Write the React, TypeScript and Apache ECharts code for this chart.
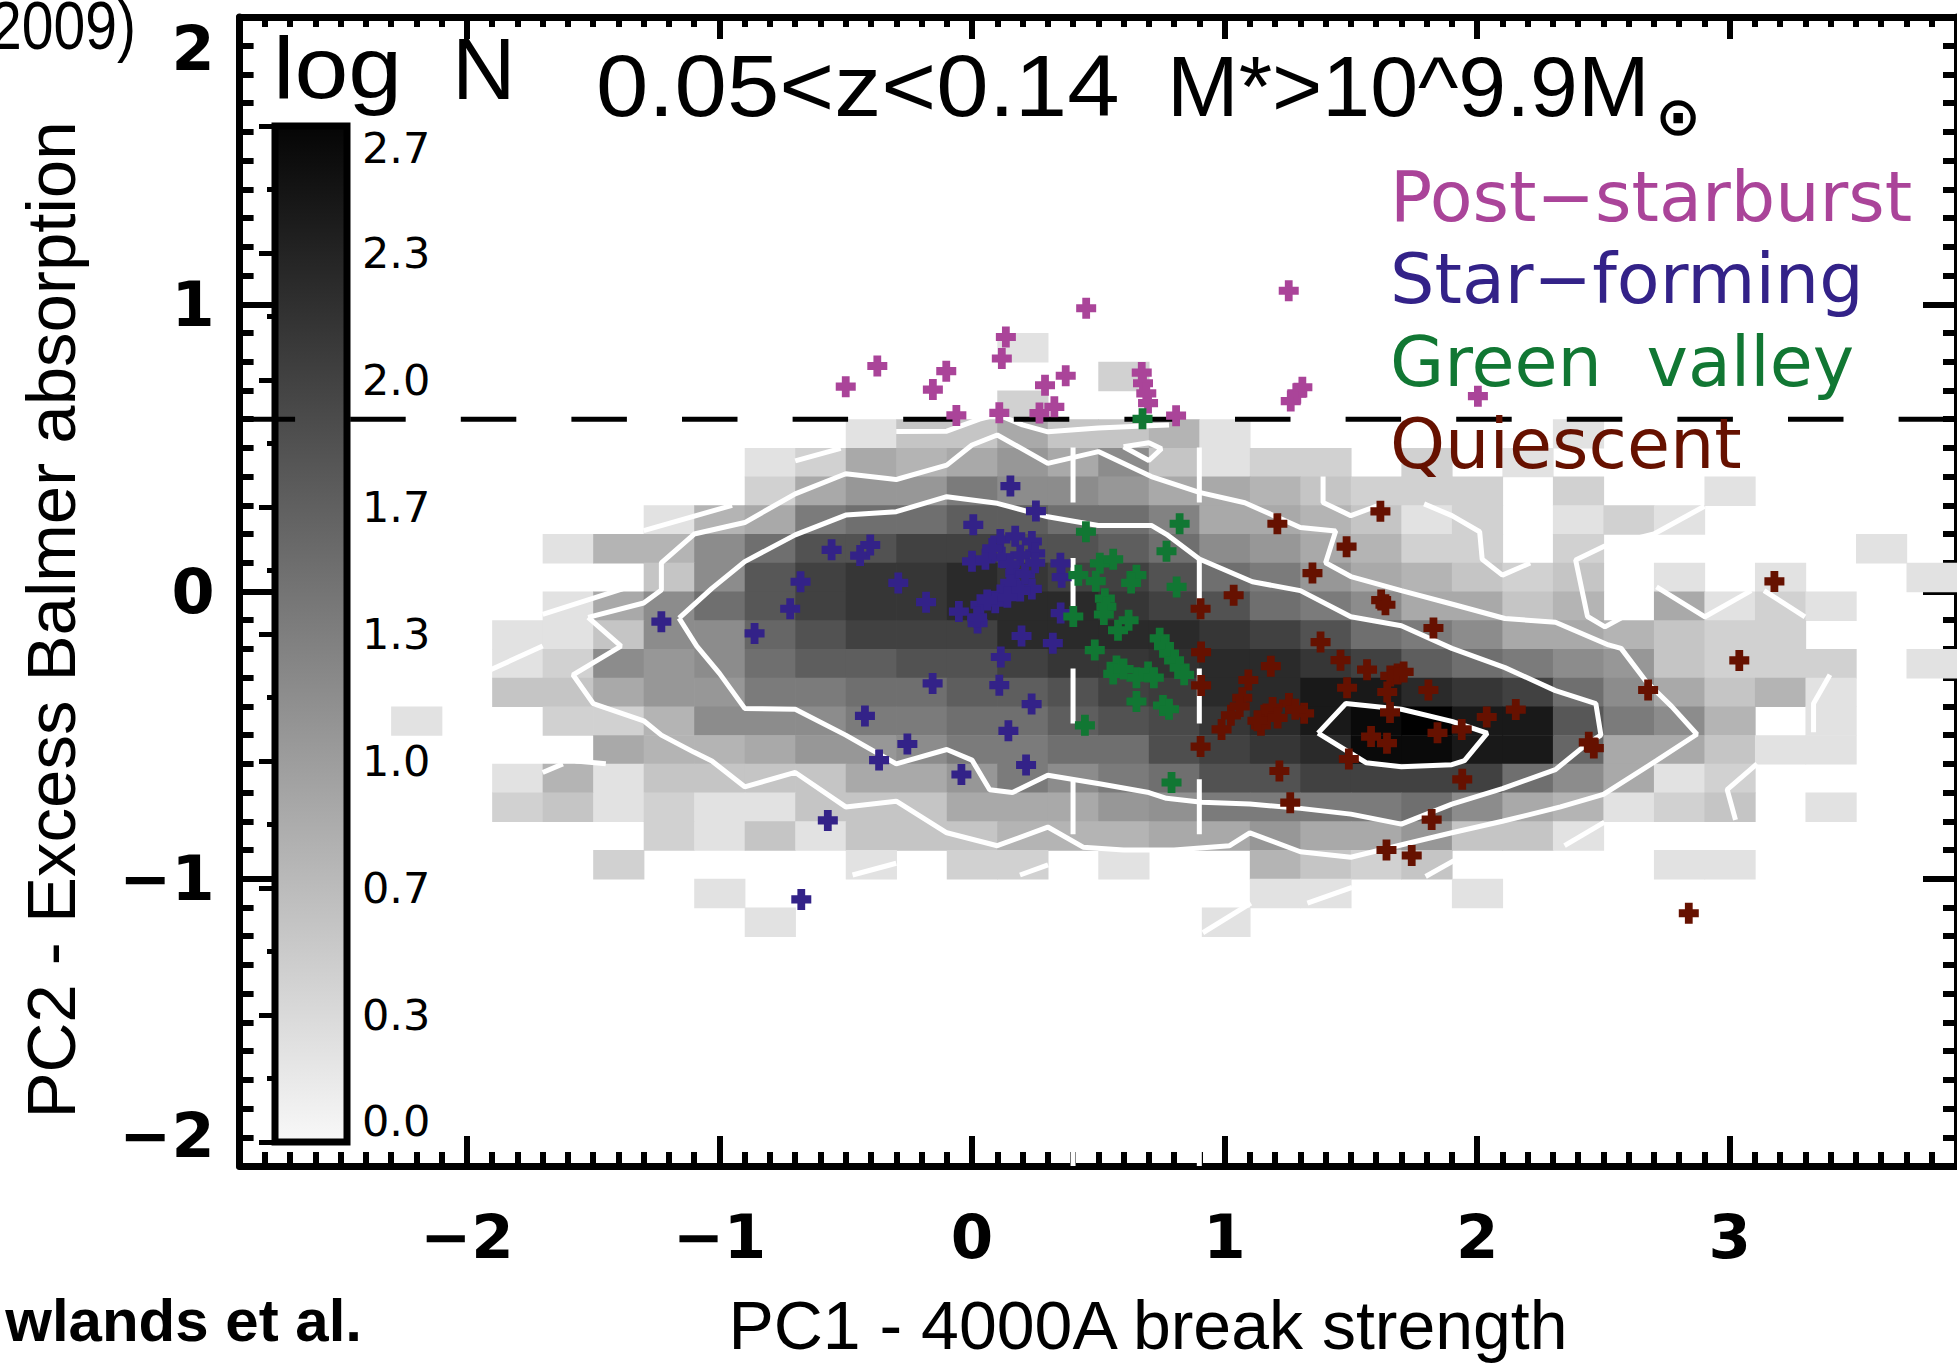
import React, { useEffect, useRef } from 'react';
import * as echarts from 'echarts';

// ---------------- data ----------------
const binCentersX = [-2.2, -2.0, -1.8, -1.6, -1.4, -1.2, -1.0, -0.8, -0.6, -0.4, -0.2, 0.0, 0.2, 0.4, 0.6, 0.8, 1.0, 1.2, 1.4, 1.6, 1.8, 2.0, 2.2, 2.4, 2.6, 2.8, 3.0, 3.2, 3.4, 3.6, 3.8];
const binCentersY = [0.85, 0.75, 0.65, 0.55, 0.45, 0.35, 0.25, 0.15, 0.05, -0.05, -0.15, -0.25, -0.35, -0.45, -0.55, -0.65, -0.75, -0.85, -0.95, -1.05, -1.15];
const binWidth = 0.2;
const binHeight = 0.1;
const logNMax = 2.66;

// log N per bin, one row per binCentersY entry, one column per binCentersX entry
const logNRows = [
  [0,0,0,0,0, 0,0,0,0,0, 0,0,.3,0,0, 0,0,0,0,0, 0,0,0,0,0, 0,0,0,0,0, 0],
  [0,0,0,0,0, 0,0,0,0,0, 0,0,0,0,.48, 0,0,0,0,0, 0,0,0,0,0, 0,0,0,0,0, 0],
  [0,0,0,0,0, 0,0,0,0,0, 0,0,.48,0,0, 0,0,0,0,0, 0,0,0,0,0, 0,0,0,0,0, 0],
  [0,0,0,0,0, 0,0,0,0,.3, .6,.6,.9,.6,.6, .78,.3,0,0,0, 0,0,0,.3,0, 0,0,0,0,0, 0],
  [0,0,0,0,0, 0,0,.3,.48,.9, .78,.9,1.08,.9,1.2, .6,.3,.48,.48,0, .48,0,.3,0,0, 0,0,0,0,0, 0],
  [0,0,0,0,0, 0,0,.48,.9,1.08, 1.08,1.38,1.2,1.2,1.08, .9,.9,.78,.6,.48, .48,.48,0,.48,0, 0,.3,0,0,0, 0],
  [0,0,0,0,0, .3,.78,.9,1.38,1.5, 1.5,1.68,1.68,1.5,1.5, 1.3,.9,.9,.78,.6, .3,.48,0,.3,.48, .3,0,0,0,0, 0],
  [0,0,0,.3,.78, .78,1.2,1.5,1.8,1.8, 1.98,1.98,1.8,1.8,1.68, 1.5,1.2,1.08,.9,.78, .48,.48,0,.48,0, 0,0,0,0,.3, 0],
  [0,0,0,0,0, .6,1.2,1.75,1.98,2.1, 2.1,2.22,2.1,1.98,1.98, 1.8,1.5,1.38,1.08,.9, .78,.6,.48,.6,0, .3,0,.3,0,0, .3],
  [0,0,0,.3,.9, 1.2,1.5,1.75,1.98,2.1, 2.1,2.22,2.22,2.22,2.1, 1.98,1.8,1.5,1.38,1.2, .9,.9,.6,.78,0, .9,.3,.48,.3,0, 0],
  [0,0,.3,.3,.6, 1.2,1.2,1.6,1.8,1.98, 1.98,1.98,2.22,2.22,2.22, 2.22,2.1,1.98,1.8,1.5, 1.38,1.2,.9,.9,.78, .6,.48,.48,0,0, 0],
  [0,0,.3,.48,1.2, 1.08,1.2,1.5,1.68,1.68, 1.8,1.8,1.98,2.1,2.1, 2.15,2.22,2.22,2.1,1.98, 1.68,1.5,1.38,1.2,1.08, .6,.48,.48,.48,0, .3],
  [0,0,.6,.6,.9, 1.08,1.08,1.38,1.38,1.5, 1.5,1.68,1.68,1.8,1.98, 2.03,2.22,2.22,2.4,2.4, 2.22,2.1,1.98,1.5,1.2, .9,.6,.78,.3,0, 0],
  [.3,0,0,.48,.48, .78,1.2,1.2,1.2,1.38, 1.38,1.5,1.5,1.68,1.8, 1.9,2.1,2.22,2.4,2.56, 2.65,2.4,2.4,1.75,1.38, 1.2,.78,0,.3,0, 0],
  [0,0,0,0,.9, .78,.78,.9,1.08,1.08, 1.2,1.38,1.38,1.5,1.5, 1.85,1.98,2.1,2.22,2.56, 2.56,2.4,2.4,1.6,.9, .9,.6,.3,.3,0, 0],
  [0,0,.3,.78,.3, .6,.6,.6,.6,.9, .9,1.08,1.38,1.2,1.38, 1.5,1.8,1.8,1.98,1.98, 1.98,1.98,1.5,1.2,.9, .3,.48,0,0,0, 0],
  [0,0,.48,.6,.3, .48,.3,.3,.6,.6, .6,.9,.9,.9,1.08, 1.15,1.38,1.38,1.38,1.38, 1.5,1.2,.9,.78,.3, .48,.6,0,.3,0, 0],
  [0,0,0,0,0, .48,.3,.6,.3,.6, .6,.6,.78,.78,.78, .9,.9,1.08,.9,.9, 1.08,.6,.6,.3,0, 0,0,0,0,0, 0],
  [0,0,0,0,.48, 0,0,0,0,.3, 0,.48,.48,0,.3, 0,0,.78,.6,.48, .6,0,0,0,0, .3,.3,0,0,0, 0],
  [0,0,0,0,0, 0,.3,0,0,0, 0,0,0,0,0, 0,0,.3,.3,0, 0,.3,0,0,0, 0,0,0,0,0, 0],
  [0,0,0,0,0, 0,0,.3,0,0, 0,0,0,0,0, 0,.3,0,0,0, 0,0,0,0,0, 0,0,0,0,0, 0],
];

const colorbarTickLabels = ['0.0', '0.3', '0.7', '1.0', '1.3', '1.7', '2.0', '2.3', '2.7'];

const pc2Threshold = 0.6;
const pc1Cuts = [0.4, 0.9];

// contours (white lines)
const contourLevel2 = [[-1.52,-0.09],[-1.30,-0.04],[-1.23,0.005],[-1.23,0.10],[-1.10,0.20],[-0.90,0.24],[-0.70,0.34],[-0.50,0.41],[-0.30,0.39],[-0.10,0.44],[0.00,0.51],[0.10,0.545],[0.30,0.446],[0.50,0.487],[0.71,0.40],[0.90,0.345],[1.08,0.309],[1.30,0.223],[1.44,0.211],[1.40,0.10],[1.50,0.052],[1.70,0.003],[1.91,-0.046],[2.11,-0.094],[2.31,-0.107],[2.52,-0.186],[2.57,-0.198],[2.67,-0.314],[2.77,-0.40],[2.87,-0.497],[2.71,-0.589],[2.50,-0.706],[2.33,-0.75],[2.10,-0.80],[1.90,-0.84],[1.71,-0.88],[1.50,-0.925],[1.30,-0.906],[1.10,-0.84],[1.02,-0.885],[0.80,-0.90],[0.60,-0.90],[0.44,-0.89],[0.30,-0.82],[0.10,-0.885],[-0.10,-0.84],[-0.30,-0.73],[-0.50,-0.75],[-0.70,-0.63],[-0.90,-0.68],[-1.03,-0.59],[-1.10,-0.56],[-1.23,-0.50],[-1.30,-0.45],[-1.50,-0.39],[-1.58,-0.29],[-1.39,-0.19],[-1.52,-0.09]];
const contourLevel3 = [[-1.16,-0.093],[-1.03,0.011],[-0.90,0.104],[-0.70,0.197],[-0.50,0.266],[-0.30,0.278],[-0.10,0.33],[0.10,0.307],[0.30,0.26],[0.50,0.23],[0.71,0.23],[0.77,0.199],[0.90,0.113],[1.11,0.034],[1.30,0.003],[1.50,-0.088],[1.70,-0.119],[1.90,-0.198],[2.11,-0.265],[2.31,-0.345],[2.47,-0.39],[2.49,-0.50],[2.43,-0.534],[2.31,-0.62],[2.10,-0.686],[1.90,-0.74],[1.70,-0.81],[1.50,-0.775],[1.30,-0.755],[1.10,-0.74],[0.91,-0.734],[0.77,-0.72],[0.70,-0.70],[0.51,-0.67],[0.30,-0.64],[0.16,-0.70],[0.07,-0.69],[0.00,-0.587],[-0.10,-0.55],[-0.30,-0.60],[-0.50,-0.50],[-0.70,-0.41],[-0.90,-0.407],[-1.00,-0.285],[-1.09,-0.19],[-1.16,-0.093]];
const contourLevel4 = [[1.37,-0.493],[1.48,-0.39],[1.70,-0.41],[1.90,-0.452],[2.04,-0.493],[1.95,-0.589],[1.90,-0.603],[1.70,-0.61],[1.56,-0.596],[1.37,-0.493]];
const contourLevel1Pieces = [
  [[-1.95,-0.29],[-1.70,-0.19]],
  [[-1.70,-0.08],[-1.39,0.007],[-1.32,0.03]],
  [[-1.30,0.212],[-0.95,0.30]],
  [[-0.70,0.455],[-0.52,0.498]],
  [[-0.30,0.557],[-0.10,0.558],[0.03,0.60],[0.10,0.616],[0.20,0.58],[0.30,0.556],[0.50,0.569],[0.70,0.577],[0.78,0.58]],
  [[0.60,0.504],[0.70,0.518],[0.75,0.497],[0.70,0.456],[0.60,0.504]],
  [[1.39,0.40],[1.39,0.31],[1.50,0.264],[1.61,0.30]],
  [[1.79,0.305],[1.90,0.264],[2.01,0.208],[2.02,0.112],[2.10,0.057],[2.21,0.099]],
  [[2.90,0.297],[2.70,0.20],[2.505,0.158],[2.39,0.11],[2.437,-0.087],[2.506,-0.123],[2.575,-0.09]],
  [[2.71,0.016],[2.902,-0.088],[3.085,0.003]],
  [[3.136,0.003],[3.298,-0.088]],
  [[3.397,-0.29],[3.332,-0.39],[3.332,-0.49]],
  [[3.108,-0.60],[2.99,-0.69],[3.023,-0.795]],
  [[2.504,-0.803],[2.346,-0.885]],
  [[1.908,-0.937],[1.796,-0.992]],
  [[1.328,-1.085],[1.505,-1.03]],
  [[0.914,-1.188],[1.104,-1.085]],
  [[-0.473,-0.987],[-0.30,-0.946]],
  [[0.19,-0.987],[0.301,-0.952]],
  [[-1.70,-0.63],[-1.62,-0.60]],
  [[-1.57,-0.59],[-1.45,-0.60]],
];

// galaxy classes
const postStarburst = [[-0.50,0.713],[-0.375,0.785],[-0.102,0.767],[-0.155,0.703],[-0.062,0.613],[0.134,0.886],[0.118,0.811],[0.108,0.622],[0.289,0.718],[0.371,0.751],[0.326,0.643],[0.267,0.621],[0.452,0.986],[0.672,0.762],[0.677,0.725],[0.690,0.69],[0.697,0.656],[0.808,0.612],[1.254,1.047],[1.262,0.663],[1.288,0.690],[1.308,0.711],[2.003,0.68]];
const starForming = [[-1.23,-0.105],[-0.861,-0.146],[-0.72,-0.06],[-0.679,0.034],[-0.556,0.145],[-0.443,0.125],[-0.403,0.162],[-0.292,0.03],[-0.182,-0.037],[0.005,0.232],[0.152,0.367],[0.253,0.28],[-0.052,-0.07],[0.022,-0.11],[0.196,-0.155],[0.32,-0.18],[0.114,-0.228],[-0.156,-0.32],[0.108,-0.326],[0.236,-0.392],[-0.424,-0.433],[0.144,-0.485],[-0.256,-0.531],[-0.368,-0.587],[-0.042,-0.637],[0.214,-0.604],[-0.571,-0.797],[-0.676,-1.072],[0.351,-0.075],[0.355,0.05],[0.35,0.098],[0.112,0.181],[0.171,0.192],[0.237,0.174],[0.25,0.133],[0.0,0.105],[0.053,0.112],[0.118,0.119],[0.191,0.126],[0.171,0.064],[0.151,0.03],[0.237,0.009],[0.191,0.002],[0.112,-0.012],[0.092,-0.039],[0.033,-0.046],[0.15,0.095],[0.21,0.06],[0.14,-0.02],[0.06,-0.03],[0.25,0.1],[0.08,0.15],[0.02,-0.09]];
const greenValley = [[0.451,0.208],[0.421,0.057],[0.506,0.098],[0.559,0.112],[0.651,0.057],[0.49,0.036],[0.526,-0.025],[0.532,-0.053],[0.522,-0.08],[0.401,-0.087],[0.578,-0.135],[0.486,-0.204],[0.572,-0.259],[0.559,-0.287],[0.651,-0.3],[0.697,-0.28],[0.651,-0.383],[0.447,-0.466],[0.77,0.14],[0.743,-0.163],[0.756,-0.397],[0.79,-0.665],[0.675,0.601],[0.822,0.236],[0.81,0.016],[0.76,-0.19],[0.78,-0.216],[0.8,-0.24],[0.822,-0.265],[0.84,-0.29],[0.78,-0.41],[0.6,-0.27],[0.62,-0.1],[0.63,0.03],[0.72,-0.3]];
const quiescent = [[1.209,0.236],[1.617,0.279],[1.483,0.156],[1.348,0.064],[1.036,-0.013],[0.905,-0.06],[1.62,-0.03],[1.637,-0.046],[1.827,-0.127],[1.38,-0.176],[0.907,-0.211],[1.459,-0.239],[1.183,-0.26],[1.564,-0.272],[1.656,-0.294],[1.685,-0.287],[1.709,-0.28],[1.094,-0.308],[0.907,-0.327],[1.485,-0.335],[1.644,-0.35],[1.807,-0.343],[1.07,-0.37],[1.255,-0.39],[1.19,-0.404],[1.157,-0.431],[1.315,-0.424],[1.025,-0.431],[1.655,-0.421],[2.038,-0.437],[2.153,-0.411],[0.988,-0.48],[1.144,-0.466],[1.21,-0.44],[1.13,-0.45],[0.905,-0.54],[1.58,-0.505],[1.643,-0.528],[1.843,-0.492],[1.939,-0.48],[1.492,-0.583],[1.217,-0.625],[1.941,-0.654],[1.26,-0.735],[1.82,-0.794],[1.641,-0.9],[1.741,-0.919],[3.177,0.035],[3.038,-0.24],[2.677,-0.343],[2.442,-0.525],[2.462,-0.545],[2.838,-1.12],[1.06,-0.4],[1.28,-0.41]];

const classNames = ['Post\u2212starburst', 'Star\u2212forming', 'Green  valley', 'Quiescent'];
const classColors = ['#AA4499', '#332288', '#117733', '#661100'];

// ---------------- chart ----------------
const plusSymbol = 'path://M5.5,0H12.5V5.5H18V12.5H12.5V18H5.5V12.5H0V5.5H5.5Z';
const minusFmt = (v: number) => (v < 0 ? '\u2212' + Math.abs(v) : String(v));

function buildOption() {
  const heatData: number[][] = [];
  logNRows.forEach((row, r) => row.forEach((v, c) => { if (v > 0) heatData.push([binCentersX[c], binCentersY[r], v]); }));

  const tickStyle = { color: '#000', width: 6 };
  const frame = { show: true, onZero: false, lineStyle: { color: '#000', width: 7 } };
  const white = { color: '#fff', width: 5 };

  const lineSeries = (data: number[][], style: any, z: number) => ({
    type: 'line', data, xAxisIndex: 0, yAxisIndex: 0, showSymbol: false, symbol: 'none',
    lineStyle: style, z, silent: true, clip: true,
  });

  const series: any[] = [
    {
      type: 'custom', xAxisIndex: 0, yAxisIndex: 0, data: heatData, z: 1, silent: true, clip: true,
      encode: { x: 0, y: 1 },
      renderItem: (params: any, api: any) => {
        const x = api.value(0), y = api.value(1), v = api.value(2);
        const p0 = api.coord([x - binWidth / 2, y + binHeight / 2]);
        const p1 = api.coord([x + binWidth / 2, y - binHeight / 2]);
        const g = Math.max(0, Math.min(255, Math.round(255 * (1 - v / logNMax))));
        return {
          type: 'rect',
          shape: { x: p0[0], y: p0[1], width: p1[0] - p0[0] + 0.7, height: p1[1] - p0[1] + 0.7 },
          style: { fill: `rgb(${g},${g},${g})` },
        };
      },
    },
    ...contourLevel1Pieces.map((seg) => lineSeries(seg, white, 3)),
    lineSeries(contourLevel2, white, 3),
    lineSeries(contourLevel3, white, 3),
    lineSeries(contourLevel4, white, 3),
    ...pc1Cuts.map((c) => lineSeries([[c, -2], [c, pc2Threshold]], { color: '#fff', width: 5, type: [55, 55.6], cap: 'butt' }, 4)),
    lineSeries([[-2.9, pc2Threshold], [3.9, pc2Threshold]], { color: '#000', width: 5, type: [55.5, 55.1], cap: 'butt' }, 4),
  ];
  [postStarburst, starForming, greenValley, quiescent].forEach((pts, i) => {
    series.push({
      type: 'scatter', name: classNames[i], data: pts, xAxisIndex: 0, yAxisIndex: 0,
      symbol: plusSymbol, symbolSize: [20, 21], itemStyle: { color: classColors[i], opacity: 1 }, z: 6, silent: true,
    });
  });

  const txt = (text: string, x: number, y: number, size: number, family: string, extra: any = {}) => ({
    type: 'text', x, y, z: 20, rotation: extra.rotation || 0, scaleX: extra.scaleX || 1,
    style: {
      text, fontSize: size, lineHeight: size, fontFamily: family, fontWeight: extra.weight || 'normal',
      fill: extra.fill || '#000', align: extra.align || 'left', verticalAlign: 'middle',
    },
  });

  const legendY = [197, 279, 362, 444];

  return {
    animation: false,
    backgroundColor: '#fff',
    grid: [
      { left: 239.6, top: 17, width: 1724.5, height: 1149, show: false },
      {
        left: 275, top: 126, width: 72, height: 1016, show: true,
        backgroundColor: new echarts.graphic.LinearGradient(0, 0, 0, 1, [
          { offset: 0, color: '#050505' }, { offset: 1, color: '#f8f8f8' },
        ]),
        borderColor: '#000', borderWidth: 7,
      },
    ],
    xAxis: [
      {
        gridIndex: 0, type: 'value', min: -2.9, max: 3.9, splitNumber: 6, position: 'bottom',
        axisLine: frame,
        axisTick: { show: true, inside: true, length: 30, lineStyle: tickStyle },
        minorTick: { show: true, splitNumber: 10, length: 14, lineStyle: tickStyle },
        splitLine: { show: false },
        axisLabel: {
          show: true, margin: 40, fontSize: 61, fontWeight: 'bold', fontFamily: 'DejaVu Sans', color: '#000',
          showMinLabel: false, showMaxLabel: false, formatter: minusFmt,
        },
      },
      {
        gridIndex: 0, type: 'value', min: -2.9, max: 3.9, splitNumber: 6, position: 'top',
        axisLine: frame,
        axisTick: { show: true, inside: true, length: 22, lineStyle: tickStyle },
        minorTick: { show: true, splitNumber: 10, length: 10, lineStyle: tickStyle },
        splitLine: { show: false }, axisLabel: { show: false },
      },
      { gridIndex: 1, type: 'value', min: 0, max: 1, show: false },
    ],
    yAxis: [
      {
        gridIndex: 0, type: 'value', min: -2, max: 2, interval: 1, position: 'left',
        axisLine: frame,
        axisTick: { show: true, inside: true, length: 34, lineStyle: tickStyle },
        minorTick: { show: true, splitNumber: 10, length: 14, lineStyle: tickStyle },
        splitLine: { show: false },
        axisLabel: {
          show: true, margin: 25, fontSize: 62, fontWeight: 'bold', fontFamily: 'DejaVu Sans', color: '#000',
          formatter: minusFmt, verticalAlignMinLabel: 'bottom', verticalAlignMaxLabel: 'top',
        },
      },
      {
        gridIndex: 0, type: 'value', min: -2, max: 2, interval: 1, position: 'right',
        axisLine: frame,
        axisTick: { show: true, inside: true, length: 34, lineStyle: tickStyle },
        minorTick: { show: true, splitNumber: 10, length: 14, lineStyle: tickStyle },
        splitLine: { show: false }, axisLabel: { show: false },
      },
      {
        gridIndex: 1, type: 'value', min: 0, max: colorbarTickLabels.length - 1, interval: 1, position: 'right', z: 10,
        axisLine: { show: false },
        axisTick: { show: true, inside: true, length: 16, lineStyle: { color: '#000', width: 5 } },
        minorTick: { show: true, splitNumber: 2, length: 8, lineStyle: { color: '#000', width: 5 } },
        splitLine: { show: false },
        axisLabel: {
          show: true, margin: 15, fontSize: 43, fontFamily: 'DejaVu Sans', color: '#000',
          formatter: (v: number) => colorbarTickLabels[v] ?? '',
          verticalAlignMinLabel: 'bottom', verticalAlignMaxLabel: 'top',
        },
      },
    ],
    series,
    graphic: [
      txt('log', 273, 68, 88, 'Liberation Sans', { scaleX: 1.1 }),
      txt('N', 452, 68, 88, 'Liberation Sans'),
      txt('0.05<z<0.14', 596, 86, 88, 'Liberation Sans', { scaleX: 1.07 }),
      txt('M*>10^9.9M', 1167, 86, 86, 'Liberation Sans'),
      txt('\u2299', 1678, 116, 54, 'DejaVu Sans', { weight: 'bold', align: 'center' }),
      ...classNames.map((n, i) => txt(n, 1390, legendY[i], 70, 'DejaVu Sans', { fill: classColors[i] })),
      txt('PC1 - 4000A break strength', 1148, 1325, 68, 'Liberation Sans', { align: 'center' }),
      txt('PC2 - Excess Balmer absorption', 51, 620, 69, 'Liberation Sans', { align: 'center', rotation: Math.PI / 2 }),
      txt('2009)', 136, 25, 68, 'Liberation Sans', { align: 'right', scaleX: 0.84 }),
      txt('wlands et al.', 362, 1320, 60, 'Liberation Sans', { align: 'right', weight: 'bold' }),
    ],
  };
}

export default function App() {
  const ref = useRef<HTMLDivElement>(null);
  useEffect(() => {
    document.body.style.margin = '0';
    const chart = echarts.init(ref.current!, null, { renderer: 'svg' });
    chart.setOption(buildOption() as any);
    return () => chart.dispose();
  }, []);
  return (
    <div
      ref={ref}
      style={{ position: 'fixed', left: 0, top: 0, width: 1957, height: 1365, background: '#fff', overflow: 'hidden' }}
    />
  );
}
